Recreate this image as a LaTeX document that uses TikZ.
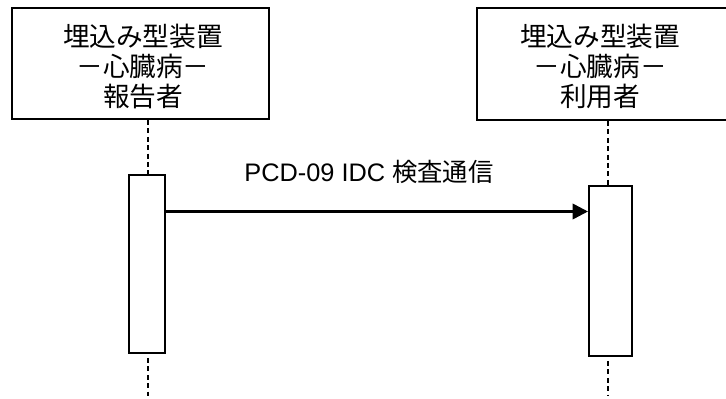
\documentclass[tikz,border=0pt]{standalone}
\usepackage{fontspec}
\setmainfont{Liberation Sans}
\newfontfamily\jp{Noto Sans CJK JP}
\usetikzlibrary{arrows.meta}
\tikzset{
  actor/.style={draw, line width=1.5pt, fill=white, inner sep=0pt},
  actortext/.style={align=center, font=\jp\fontsize{20pt}{22.2pt}\selectfont, inner sep=0pt},
  actbox/.style={draw, line width=1.5pt, fill=white, inner sep=0pt, anchor=north west},
  life/.style={line width=1.5pt, dash pattern=on 3.8pt off 2.5pt},
  msg/.style={line width=1.9pt, -{Triangle[length=11.5pt,width=11.5pt]}},
  msglabel/.style={font=\fontsize{19pt}{22pt}\selectfont, inner sep=0pt, anchor=base}
}
\begin{document}
\begin{tikzpicture}[x=0.75pt,y=-0.75pt]
\useasboundingbox (0,0) rectangle (726,399);
\clip (0,0) rectangle (726,399);
\fill[white] (0,0) rectangle (726,399);
% actor boxes
\node[actor, minimum width=192.75pt, minimum height=83.25pt] (rep) at (140.5,63.5) {};
\node[actor, minimum width=192.75pt, minimum height=84pt] (usr) at (605.5,64) {};
\node[actortext] (reptext) at (143,66.5) {埋込み型装置\\－心臓病－\\報告者};
\node[actortext] (usrtext) at (600,66.5) {埋込み型装置\\－心臓病－\\利用者};
% lifeline positions
\coordinate (x1) at (148,0);
\coordinate (x2) at (608,0);
% activation boxes
\node[actbox, minimum width=27pt, minimum height=133.5pt] (a1) at (128,174) {};
\node[actbox, minimum width=32.25pt, minimum height=127.5pt] (a2) at (588,185) {};
\coordinate (e1) at (148,396);
\coordinate (e2) at (608,396);
% lifelines
\draw[life] (rep.south -| x1) -- (a1.north -| x1);
\draw[life] (a1.south -| x1) ++(0,4) -- (e1);
\draw[life] (usr.south -| x2) -- (a2.north -| x2);
\draw[life] (a2.south -| x2) ++(0,4) -- (e2);
% message
\coordinate (my) at (0,211.5);
\draw[msg] (a1.east |- my) -- (a2.west |- my);
\node[msglabel] (lbl) at (369,182) {PCD-09 IDC {\jp 検査通信}};
\end{tikzpicture}
\end{document}
